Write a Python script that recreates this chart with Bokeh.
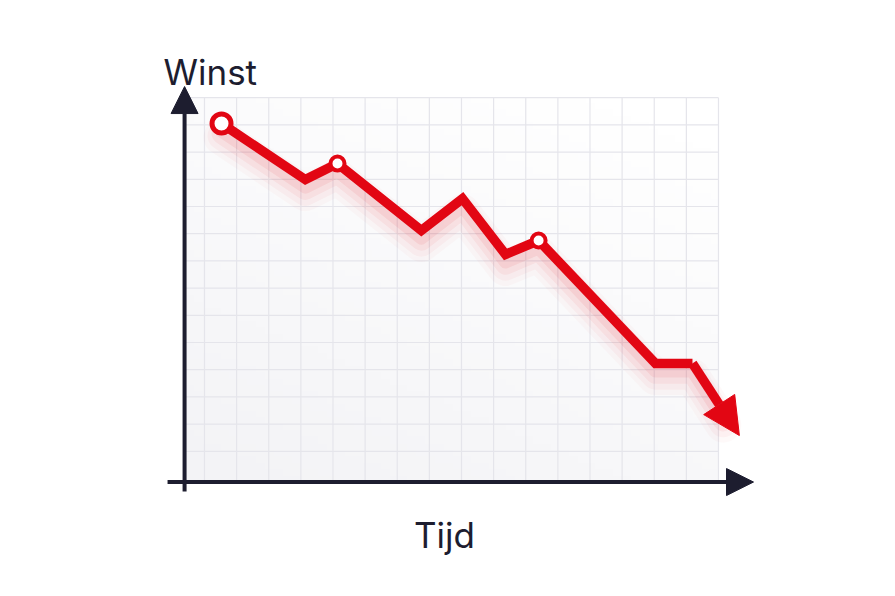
import numpy as np
from bokeh.plotting import figure
from bokeh.models import Range1d, Arrow, NormalHead, Label
from bokeh.embed import file_html
from bokeh.resources import INLINE

# ---- data (grid units: one time step per column, one profit unit per row) ----
time = [0.53, 3.14, 4.14, 6.75, 8.03, 9.37, 10.40, 14.04, 15.19]
winst = [13.05, 10.99, 11.58, 9.12, 10.29, 8.24, 8.75, 4.23, 4.23]
marker_idx = [0, 2, 6]
trend_end_time = 16.65
trend_end_winst = 1.58
n_cols = 16
n_rows = 14
x_label = "Tijd"
y_label = "Winst"

RED = "#e20613"
DARK = "#1d1d2f"
FONT = "Inter"

p = figure(width=879, height=580, x_axis_type=None, y_axis_type=None,
           toolbar_location=None, output_backend="svg", min_border=0,
           x_range=Range1d(-6.350, 21.012), y_range=Range1d(-3.750, 17.574))
p.outline_line_color = None
p.background_fill_color = "white"
p.border_fill_color = "white"

axis_x = -0.62   # position of vertical axis (grid units)
axis_y = -0.13   # position of horizontal axis

# background gradient of grid area
N, M = 60, 60
img = np.empty((N, M), dtype=np.uint32)
view = img.view(dtype=np.uint8).reshape((N, M, 4))
rows = np.linspace(0, 1, N)[:, None]
cols = np.linspace(0, 1, M)[None, :]
t = np.clip(rows * 0.7 + cols * 0.4, 0, 1)
c0 = np.array([243, 243, 246])
c1 = np.array([255, 255, 255])
for k in range(3):
    view[:, :, k] = (c0[k] + (c1[k] - c0[k]) * t).astype(np.uint8)
view[:, :, 3] = 255
p.image_rgba(image=[img], x=axis_x, y=axis_y, dw=n_cols - axis_x, dh=n_rows - axis_y)

# grid lines
gx = np.arange(0, n_cols + 1)
p.segment(x0=gx, y0=axis_y, x1=gx, y1=n_rows, line_color="#e5e5eb", line_width=1.2)
gy = np.arange(1, n_rows + 1)
p.segment(x0=axis_x, y0=gy, x1=n_cols, y1=gy, line_color="#e5e5eb", line_width=1.2)

# axes
p.add_layout(Arrow(x_start=axis_x, y_start=-0.48, x_end=axis_x, y_end=14.41,
                   line_color=DARK, line_width=4,
                   end=NormalHead(size=27, fill_color=DARK, line_color=DARK, line_width=1)))
p.add_layout(Arrow(x_start=-1.15, y_start=axis_y, x_end=17.09, y_end=axis_y,
                   line_color=DARK, line_width=4,
                   end=NormalHead(size=27, fill_color=DARK, line_color=DARK, line_width=1)))

# soft red shadow under the trend line
sx = list(time) + [trend_end_time - 0.5]
sy = list(winst) + [trend_end_winst + 0.9]
for w, a, off in [(36, 0.025, 0.5), (28, 0.035, 0.45), (20, 0.05, 0.38), (13, 0.07, 0.28)]:
    p.line(sx, [v - off for v in sy], line_color=RED, line_width=w, line_alpha=a,
           line_join="round", line_cap="round")

# trend line
p.line(time, winst, line_color=RED, line_width=9.5, line_join="miter")
p.add_layout(Arrow(x_start=time[-1], y_start=winst[-1], x_end=trend_end_time, y_end=trend_end_winst,
                   line_color=RED, line_width=9.5,
                   end=NormalHead(size=37, fill_color=RED, line_color=RED, line_width=1)))

# markers
mx = [time[i] for i in marker_idx]
my = [winst[i] for i in marker_idx]
sizes = [19, 14, 14]
p.scatter(mx, my, size=sizes, marker="circle", fill_color="white",
          line_color=RED, line_width=[5, 4, 4])

# labels
p.add_layout(Label(x=-1.276, y=14.93, text=y_label, text_font=FONT, text_font_size="35px",
                   text_color=DARK, text_baseline="alphabetic", text_align="left"))
p.add_layout(Label(x=7.47, y=-2.06, text=x_label, text_font=FONT, text_font_size="35px",
                   text_color=DARK, text_baseline="alphabetic", text_align="center"))

open("out.html", "w").write(file_html(p, INLINE))
